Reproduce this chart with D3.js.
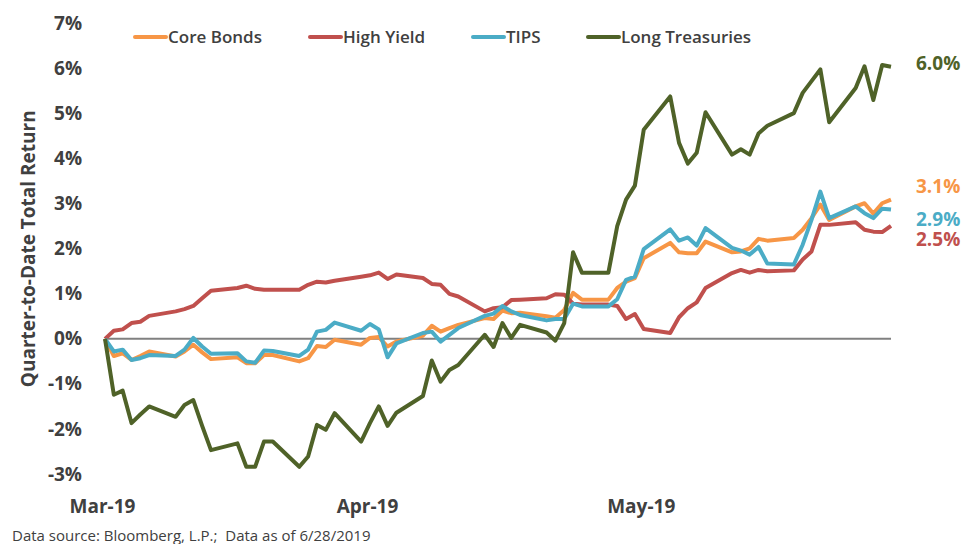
<!DOCTYPE html>
<html>
<head>
<meta charset="utf-8">
<script src="https://cdn.jsdelivr.net/npm/d3@7"></script>
<style>
  body { margin: 0; background: #fff; }
  svg { font-family: "Open Sans", sans-serif; }
</style>
</head>
<body>
<svg id="chart" width="965" height="544"></svg>
<script>
(function (d3) {
    'use strict';

    // trading days of Q2 2019, starting from the quarter-end base
    const dates = [
        "2019-03-31",
        "2019-04-01","2019-04-02","2019-04-03","2019-04-04","2019-04-05",
        "2019-04-08","2019-04-09","2019-04-10","2019-04-11","2019-04-12",
        "2019-04-15","2019-04-16","2019-04-17","2019-04-18","2019-04-19",
        "2019-04-22","2019-04-23","2019-04-24","2019-04-25","2019-04-26",
        "2019-04-29","2019-04-30","2019-05-01","2019-05-02","2019-05-03",
        "2019-05-06","2019-05-07","2019-05-08","2019-05-09","2019-05-10",
        "2019-05-13","2019-05-14","2019-05-15","2019-05-16","2019-05-17",
        "2019-05-20","2019-05-21","2019-05-22","2019-05-23","2019-05-24",
        "2019-05-27","2019-05-28","2019-05-29","2019-05-30","2019-05-31",
        "2019-06-03","2019-06-04","2019-06-05","2019-06-06","2019-06-07",
        "2019-06-10","2019-06-11","2019-06-12","2019-06-13","2019-06-14",
        "2019-06-17","2019-06-18","2019-06-19","2019-06-20","2019-06-21",
        "2019-06-24","2019-06-25","2019-06-26","2019-06-27","2019-06-28"
    ];

    const coreBonds = [0,
        -0.38,-0.32,-0.47,-0.38,-0.28, -0.39,-0.28,-0.13,-0.30,-0.45,
        -0.41,-0.54,-0.54,-0.36,-0.36, -0.50,-0.43,-0.16,-0.18,-0.02,
        -0.13,0.02,0.04,-0.17,-0.06, 0.07,0.29,0.16,0.24,0.31,
        0.46,0.44,0.63,0.57,0.58, 0.50,0.47,0.64,1.02,0.87,
        0.87,1.13,1.27,1.35,1.79, 2.13,1.92,1.90,1.90,2.16,
        1.92,1.94,2.01,2.22,2.18, 2.24,2.42,2.68,2.98,2.64,
        2.94,3.01,2.78,3.01,3.09];

    const highYield = [0,
        0.18,0.21,0.35,0.38,0.51, 0.61,0.66,0.73,0.90,1.07,
        1.13,1.18,1.11,1.09,1.09, 1.09,1.20,1.27,1.25,1.29,
        1.38,1.41,1.47,1.33,1.43, 1.35,1.22,1.20,1.00,0.94,
        0.61,0.68,0.70,0.86,0.87, 0.90,0.99,0.98,0.78,0.76,
        0.76,0.73,0.44,0.55,0.22, 0.13,0.48,0.68,0.81,1.13,
        1.46,1.53,1.47,1.53,1.50, 1.52,1.76,1.94,2.53,2.53,
        2.59,2.42,2.38,2.37,2.51];

    const tips = [0,
        -0.28,-0.24,-0.47,-0.43,-0.36, -0.38,-0.24,0.02,-0.17,-0.33,
        -0.32,-0.50,-0.53,-0.26,-0.27, -0.38,-0.24,0.16,0.20,0.36,
        0.18,0.33,0.21,-0.41,-0.10, 0.13,0.16,-0.06,0.09,0.24,
        0.51,0.56,0.73,0.61,0.53, 0.41,0.44,0.44,0.78,0.72,
        0.72,0.88,1.31,1.38,1.99, 2.43,2.18,2.25,2.07,2.46,
        2.02,1.96,1.87,2.04,1.67, 1.65,2.09,2.64,3.27,2.68,
        2.94,2.79,2.68,2.89,2.87];

    const longTreasuries = [0,
        -1.24,-1.15,-1.87,-1.68,-1.50, -1.73,-1.47,-1.36,-1.93,-2.47,
        -2.32,-2.84,-2.84,-2.28,-2.28, -2.84,-2.61,-1.91,-2.02,-1.65,
        -2.28,-1.87,-1.50,-1.93,-1.64, -1.27,-0.48,-0.95,-0.69,-0.58,
        0.09,-0.18,0.35,0.02,0.31, 0.14,-0.04,0.35,1.92,1.47,
        1.47,2.50,3.09,3.40,4.64, 5.38,4.35,3.89,4.13,5.03,
        4.09,4.21,4.09,4.56,4.73, 5.01,5.46,5.72,5.98,4.81,
        5.57,6.05,5.30,6.08,6.04];

    const seriesNames = ["Core Bonds", "High Yield", "TIPS", "Long Treasuries"];
    const seriesColors = ["#F79646", "#C0504D", "#4BACC6", "#4F6228"];
    const endLabels = ["3.1%", "2.5%", "2.9%", "6.0%"];
    const yTicks = [-3, -2, -1, 0, 1, 2, 3, 4, 5, 6, 7];
    const xTickDates = ["2019-03-31", "2019-04-30", "2019-05-31"];

    const parse = d3.timeParse("%Y-%m-%d");
    const textColor = "#404040";

    const series = [coreBonds, highYield, tips, longTreasuries].map((vals, i) => ({
        name: seriesNames[i],
        color: seriesColors[i],
        label: endLabels[i],
        values: vals.map((v, j) => ({ date: parse(dates[j]), value: v }))
    }));

    const svg = d3.select("#chart");

    const x = d3.scaleTime()
        .domain([parse(dates[0]), parse(dates[dates.length - 1])])
        .range([105, 891]);

    const y = d3.scaleLinear()
        .domain([-3, 7])
        .range([474, 23.5]);

    // y axis (labels only)
    const yAxis = svg.append('g')
        .attr('transform', 'translate(84,0)')
        .call(d3.axisLeft(y).tickValues(yTicks).tickSize(0).tickPadding(2).tickFormat(d => d + "%"));
    yAxis.select('.domain').remove();
    yAxis.selectAll('text')
        .attr('fill', textColor)
        .style('font-size', '19px')
        .style('font-weight', 700)
        .style('font-family', '"Open Sans", sans-serif');

    // x axis (labels only)
    const xAxis = svg.append('g')
        .attr('transform', 'translate(0,474)')
        .call(d3.axisBottom(x).tickValues(xTickDates.map(parse)).tickSize(0).tickFormat(d3.timeFormat("%b-%y")));
    xAxis.select('.domain').remove();
    xAxis.selectAll('text')
        .attr('dy', null)
        .attr('y', 39)
        .attr('dx', -3)
        .attr('fill', textColor)
        .style('font-size', '19px')
        .style('font-weight', 700)
        .style('font-family', '"Open Sans", sans-serif');

    // zero line
    svg.append('line')
        .attr('x1', x.range()[0]).attr('x2', x.range()[1])
        .attr('y1', y(0)).attr('y2', y(0))
        .attr('stroke', '#808080')
        .attr('stroke-width', 2);

    const line = d3.line()
        .x(d => x(d.date))
        .y(d => y(d.value));

    svg.append('g')
        .selectAll('path').data(series)
        .enter().append('path')
            .attr('d', d => line(d.values))
            .attr('fill', 'none')
            .attr('stroke', d => d.color)
            .attr('stroke-width', 4)
            .attr('stroke-linejoin', 'round');

    // end labels
    const labelY = [186, 239, 219, 63];
    svg.append('g')
        .selectAll('text').data(series)
        .enter().append('text')
            .attr('x', 916)
            .attr('y', (d, i) => labelY[i])
            .attr('dy', '0.35em')
            .attr('fill', d => d.color)
            .style('font-size', '19px')
            .style('font-weight', 700)
            .text(d => d.label);

    // legend
    const legendX = [135, 310, 473, 588];
    const legend = svg.append('g')
        .selectAll('g').data(series)
        .enter().append('g')
            .attr('transform', (d, i) => `translate(${legendX[i]},37)`);
    legend.append('line')
        .attr('x1', 0).attr('x2', 31)
        .attr('stroke', d => d.color)
        .attr('stroke-width', 4)
        .attr('stroke-linecap', 'round');
    legend.append('text')
        .attr('x', 33)
        .attr('dy', '0.35em')
        .attr('fill', textColor)
        .style('font-size', '17px')
        .style('font-weight', 600)
        .text(d => d.name);

    // y axis title
    svg.append('text')
        .attr('transform', `translate(35,${(y(7) + y(-3)) / 2}) rotate(-90)`)
        .attr('text-anchor', 'middle')
        .attr('fill', textColor)
        .style('font-size', '19px')
        .style('font-weight', 700)
        .text("Quarter-to-Date Total Return");

    // source note
    svg.append('text')
        .attr('x', 12)
        .attr('y', 541)
        .attr('fill', textColor)
        .style('font-size', '15px')
        .style('white-space', 'pre')
        .text("Data source: Bloomberg, L.P.;  Data as of 6/28/2019");

}(d3));
</script>
</body>
</html>
